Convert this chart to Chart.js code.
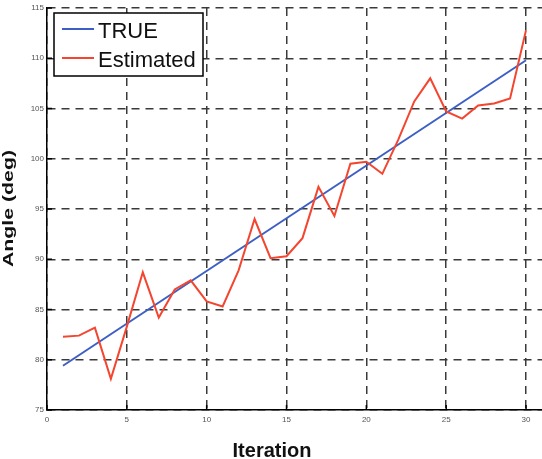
<!DOCTYPE html>
<html>
<head>
<meta charset="utf-8">
<script src="https://cdn.jsdelivr.net/npm/chart.js@4/dist/chart.umd.min.js"></script>
<style>
  html, body { margin: 0; background: #fff; }
</style>
</head>
<body>
<canvas id="chart" width="542" height="459"></canvas>
<script>
// values
const iterations = [1, 2, 3, 4, 5, 6, 7, 8, 9, 10, 11, 12, 13, 14, 15,
  16, 17, 18, 19, 20, 21, 22, 23, 24, 25, 26, 27, 28, 29, 30];
const estimated = [82.3, 82.4, 83.2, 78.1, 83.3, 88.7, 84.2, 87.0, 87.9, 85.8,
  85.3, 88.9, 94.0, 90.1, 90.3, 92.1, 97.2, 94.3, 99.5, 99.7,
  98.5, 101.9, 105.7, 108.0, 104.7, 104.0, 105.3, 105.5, 106.0, 112.8];
const trueX = [1, 30];
const trueY = [79.4, 109.8];
const xTicks = [0, 5, 10, 15, 20, 25, 30];
const yTicks = [75, 80, 85, 90, 95, 100, 105, 110, 115];
const xTitle = 'Iteration';
const yTitle = 'Angle (deg)';

const FONT = 'Helvetica, Arial, "Liberation Sans", sans-serif';

// short inward tick marks on the left and bottom axes
const innerTicks = {
  id: 'innerTicks',
  beforeDatasetsDraw(chart) {
    const { ctx, chartArea: a, scales: { x, y } } = chart;
    ctx.save();
    ctx.strokeStyle = '#000';
    ctx.lineWidth = 1.5;
    ctx.beginPath();
    xTicks.forEach(v => {
      const px = x.getPixelForValue(v);
      ctx.moveTo(px, a.bottom);
      ctx.lineTo(px, a.bottom - 5);
    });
    yTicks.forEach(v => {
      const py = y.getPixelForValue(v);
      ctx.moveTo(a.left, py);
      ctx.lineTo(a.left + 5, py);
    });
    ctx.stroke();
    ctx.restore();
  }
};

// axis titles placed like the MATLAB figure (y title is stretched along its length)
const axisTitles = {
  id: 'axisTitles',
  afterDraw(chart) {
    const ctx = chart.ctx;
    ctx.save();
    ctx.fillStyle = '#111';
    ctx.textAlign = 'center';
    ctx.textBaseline = 'alphabetic';
    ctx.font = 'bold 20px ' + FONT;
    ctx.fillText(xTitle, 272, 457);
    ctx.translate(9, 208.5);
    ctx.rotate(-Math.PI / 2);
    ctx.scale(1.42, 1);
    ctx.font = 'bold 15px ' + FONT;
    ctx.fillText(yTitle, 0, 3.8);
    ctx.restore();
  }
};

// MATLAB style boxed legend in the upper left corner
const boxLegend = {
  id: 'boxLegend',
  afterDraw(chart) {
    const ctx = chart.ctx;
    const x = 54, y = 13, w = 149, h = 63;
    ctx.save();
    ctx.fillStyle = '#fff';
    ctx.fillRect(x, y, w, h);
    ctx.strokeStyle = '#000';
    ctx.lineWidth = 1.5;
    ctx.strokeRect(x, y, w, h);
    ctx.font = '22px ' + FONT;
    ctx.textBaseline = 'alphabetic';
    chart.data.datasets.forEach((ds, i) => {
      const cy = y + 16 + i * 29;
      ctx.strokeStyle = ds.borderColor;
      ctx.lineWidth = 2;
      ctx.beginPath();
      ctx.moveTo(x + 8, cy);
      ctx.lineTo(x + 40, cy);
      ctx.stroke();
      ctx.fillStyle = '#111';
      ctx.fillText(ds.label, x + 44, cy + 9);
    });
    ctx.restore();
  }
};

new Chart(document.getElementById('chart'), {
  type: 'line',
  data: {
    datasets: [
      {
        label: 'TRUE',
        data: trueX.map((x, i) => ({ x: x, y: trueY[i] })),
        borderColor: '#3d5fc4',
        borderWidth: 2,
        pointRadius: 0,
        order: 1
      },
      {
        label: 'Estimated',
        data: iterations.map((x, i) => ({ x: x, y: estimated[i] })),
        borderColor: '#f4452f',
        borderWidth: 2,
        pointRadius: 0,
        order: 0
      }
    ]
  },
  options: {
    responsive: false,
    animation: false,
    layout: { padding: { top: 8, right: 0, bottom: 0, left: 0 } },
    plugins: {
      legend: { display: false },
      tooltip: { enabled: false }
    },
    scales: {
      x: {
        type: 'linear',
        min: 0,
        max: 31,
        afterBuildTicks: (s) => { s.ticks = xTicks.map(v => ({ value: v })); },
        afterFit: (s) => { s.height = 49; },
        ticks: {
          font: { size: 8, family: FONT },
          color: '#555',
          padding: 5,
          maxRotation: 0
        },
        grid: { color: '#3a3a3a', lineWidth: 1.5, drawTicks: false },
        border: { color: '#000', width: 1.5, dash: [8, 6] }
      },
      y: {
        min: 75,
        max: 115,
        afterBuildTicks: (s) => { s.ticks = yTicks.map(v => ({ value: v })); },
        afterFit: (s) => { s.width = 47; },
        ticks: {
          font: { size: 8, family: FONT },
          color: '#555',
          padding: 3
        },
        grid: { color: '#3a3a3a', lineWidth: 1.5, drawTicks: false },
        border: { color: '#000', width: 1.5, dash: [8, 6] }
      }
    }
  },
  plugins: [innerTicks, axisTitles, boxLegend]
});
</script>
</body>
</html>
